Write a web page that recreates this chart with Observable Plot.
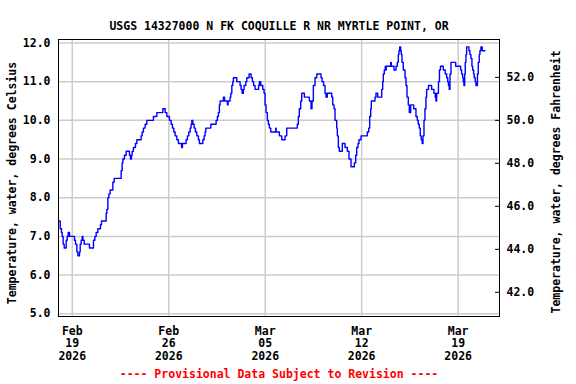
<!DOCTYPE html>
<html><head><meta charset="utf-8">
<script src="https://cdn.jsdelivr.net/npm/d3@7"></script>
<script src="https://cdn.jsdelivr.net/npm/@observablehq/plot@0.6"></script>
<style>
html,body{margin:0;padding:0;background:#fff;}
</style></head><body><div id="chart"></div>
<script>
const title = "USGS 14327000 N FK COQUILLE R NR MYRTLE POINT, OR";
const leftLabel = "Temperature, water, degrees Celsius";
const rightLabel = "Temperature, water, degrees Fahrenheit";
const footer = "---- Provisional Data Subject to Revision ----";
const celsiusTicks = [5, 6, 7, 8, 9, 10, 11, 12];
const fahrenheitTicks = [42, 44, 46, 48, 50, 52];
const dateTicks = ["2026-02-19", "2026-02-26", "2026-03-05", "2026-03-12", "2026-03-19"];
const dateDomain = ["2026-02-18", "2026-03-22"];
const celsiusDomain = [4.93, 12.09];
// [time (2026 UTC), water temperature °C], value holds until the next reading
const readings = [
["02-18 00:00",7.4],["02-18 03:00",7.2],["02-18 05:15",7.1],["02-18 06:25",7.0],["02-18 08:10",6.8],["02-18 09:55",6.7],
["02-18 13:25",6.9],["02-18 15:10",7.0],["02-18 16:55",7.1],["02-18 19:10",7.0],
["02-19 03:50",6.9],["02-19 05:35",6.8],["02-19 08:00",6.6],["02-19 09:45",6.5],["02-19 12:35",6.6],["02-19 13:45",6.8],
["02-19 15:30",6.9],["02-19 17:15",7.0],["02-19 18:30",6.9],["02-19 20:45",6.8],
["02-20 05:55",6.7],["02-20 12:55",6.9],["02-20 15:20",7.0],["02-20 17:35",7.1],["02-20 20:35",7.2],
["02-21 01:05",7.3],["02-21 02:50",7.4],["02-21 11:00",7.6],["02-21 12:15",7.7],["02-21 14:00",8.0],["02-21 15:45",8.1],
["02-21 18:00",8.2],["02-21 22:40",8.4],
["02-22 00:55",8.5],["02-22 13:05",8.7],["02-22 14:50",8.9],["02-22 16:05",9.0],["02-22 18:50",9.1],["02-22 21:50",9.2],
["02-23 03:35",9.1],["02-23 05:20",9.0],["02-23 07:05",9.1],["02-23 08:15",9.2],["02-23 10:30",9.3],["02-23 14:00",9.4],
["02-23 16:25",9.5],["02-23 23:55",9.6],
["02-24 01:40",9.7],["02-24 03:55",9.8],["02-24 06:55",9.9],["02-24 09:50",10.0],["02-24 21:20",10.1],
["02-25 03:15",10.2],["02-25 13:40",10.3],["02-25 17:40",10.2],["02-25 20:40",10.1],
["02-26 01:10",10.0],["02-26 04:10",9.9],["02-26 06:25",9.8],["02-26 08:50",9.7],["02-26 11:05",9.6],["02-26 14:05",9.5],
["02-26 16:50",9.4],["02-26 22:25",9.3],["02-26 23:50",9.4],
["02-27 06:15",9.5],["02-27 08:30",9.6],["02-27 10:55",9.7],["02-27 13:15",9.8],["02-27 14:55",9.9],["02-27 16:10",10.0],
["02-27 17:55",9.9],["02-27 20:10",9.8],["02-27 22:25",9.7],
["02-28 00:50",9.6],["02-28 03:40",9.5],["02-28 05:25",9.4],["02-28 11:20",9.5],["02-28 13:35",9.6],["02-28 15:20",9.7],
["02-28 16:30",9.8],
["03-01 01:15",9.9],["03-01 10:30",10.0],["03-01 12:45",10.1],["03-01 14:30",10.2],["03-01 16:10",10.4],["03-01 17:25",10.5],
["03-01 23:10",10.6],
["03-02 01:15",10.5],["03-02 06:10",10.4],["03-02 07:20",10.5],["03-02 10:50",10.6],["03-02 12:05",10.7],["03-02 13:50",10.9],
["03-02 15:30",11.0],["03-02 16:35",11.1],["03-02 22:30",11.0],
["03-03 04:15",10.9],["03-03 06:00",10.8],["03-03 07:45",10.7],["03-03 10:00",10.8],["03-03 11:10",10.9],["03-03 14:10",11.0],
["03-03 15:55",11.1],["03-03 19:55",11.2],["03-03 23:25",11.1],
["03-04 01:40",11.0],["03-04 03:45",10.9],["03-04 06:20",10.8],["03-04 12:25",10.9],["03-04 13:50",11.0],["03-04 16:15",10.9],
["03-04 19:45",10.8],["03-04 22:00",10.7],["03-04 23:45",10.4],
["03-05 01:30",10.2],["03-05 03:45",10.0],["03-05 05:30",9.9],["03-05 07:15",9.8],["03-05 09:40",9.7],["03-05 18:20",9.8],
["03-05 19:00",9.7],
["03-06 00:40",9.6],["03-06 04:50",9.5],["03-06 10:35",9.6],["03-06 13:30",9.8],
["03-07 07:55",9.9],["03-07 09:40",10.1],["03-07 11:25",10.3],["03-07 13:50",10.5],["03-07 15:35",10.7],["03-07 20:10",10.6],
["03-08 04:50",10.5],["03-08 07:50",10.3],["03-08 09:30",10.5],["03-08 11:50",10.9],["03-08 14:45",11.1],["03-08 17:45",11.2],
["03-09 01:10",11.1],["03-09 02:55",11.0],["03-09 05:35",10.9],["03-09 08:10",10.7],["03-09 09:55",10.6],["03-09 12:10",10.7],
["03-09 19:50",10.6],["03-09 21:35",10.4],["03-09 23:50",10.3],
["03-10 01:35",10.0],["03-10 04:30",9.8],["03-10 05:35",9.6],["03-10 07:20",9.3],["03-10 09:05",9.2],["03-10 14:15",9.4],
["03-10 19:00",9.3],["03-10 23:00",9.2],
["03-11 01:55",9.0],["03-11 05:25",8.8],["03-11 11:10",8.9],["03-11 13:35",9.1],["03-11 15:20",9.3],["03-11 17:35",9.4],
["03-11 19:20",9.5],["03-11 22:50",9.6],
["03-12 09:45",9.7],["03-12 12:15",9.8],["03-12 13:55",10.1],["03-12 15:40",10.3],["03-12 16:45",10.5],["03-12 23:10",10.6],
["03-13 00:55",10.7],["03-13 03:55",10.6],["03-13 10:50",10.8],["03-13 12:35",11.0],["03-13 13:40",11.2],["03-13 15:20",11.3],
["03-13 17:05",11.4],["03-13 17:45",11.3],["03-13 18:45",11.4],
["03-14 02:30",11.5],["03-14 03:35",11.4],["03-14 08:15",11.3],["03-14 11:45",11.4],["03-14 14:00",11.5],["03-14 15:45",11.7],
["03-14 16:55",11.8],["03-14 18:10",11.9],["03-14 19:55",11.8],["03-14 20:55",11.7],["03-14 22:10",11.5],
["03-15 00:25",11.3],["03-15 03:25",11.1],["03-15 05:10",10.9],["03-15 06:55",10.6],["03-15 09:10",10.4],["03-15 10:55",10.2],
["03-15 13:20",10.4],["03-15 18:30",10.3],["03-15 22:30",10.1],
["03-16 00:50",10.0],["03-16 02:30",9.9],["03-16 04:15",9.8],["03-16 06:00",9.6],["03-16 07:45",9.5],["03-16 09:20",9.4],
["03-16 10:45",9.6],["03-16 12:30",10.0],["03-16 14:10",10.3],["03-16 15:55",10.6],["03-16 17:10",10.8],["03-16 20:20",10.9],
["03-17 01:50",10.8],["03-17 05:50",10.7],["03-17 08:10",10.6],["03-17 09:20",10.5],["03-17 10:35",10.7],["03-17 13:40",11.0],
["03-17 15:25",11.3],["03-17 17:10",11.4],["03-17 22:05",11.3],
["03-18 01:30",11.2],["03-18 04:00",11.1],["03-18 05:45",11.0],["03-18 07:05",10.9],["03-18 08:30",10.8],["03-18 09:45",11.2],
["03-18 11:30",11.5],["03-18 19:40",11.4],
["03-19 04:20",11.3],["03-19 06:05",11.2],["03-19 07:50",11.1],["03-19 08:50",11.0],["03-19 10:05",10.9],["03-19 11:20",11.2],
["03-19 12:20",11.5],["03-19 13:35",11.7],["03-19 14:45",11.9],["03-19 18:45",11.8],["03-19 20:30",11.7],["03-19 22:15",11.6],
["03-20 00:00",11.4],["03-20 01:15",11.3],["03-20 02:55",11.2],["03-20 04:00",11.1],["03-20 05:45",11.0],["03-20 07:00",10.9],
["03-20 09:35",11.2],["03-20 11:00",11.5],["03-20 12:45",11.7],["03-20 13:55",11.8],["03-20 15:40",11.9],["03-20 17:55",11.8],
["03-20 22:40",11.8]
];

const parseT = d3.utcParse("%Y-%m-%d %H:%M");
const parseD = d3.utcParse("%Y-%m-%d");
const data = readings.map(([t, v]) => ({time: parseT("2026-" + t), temp: v}));
const tickDates = dateTicks.map(parseD);
const toC = f => (f - 32) * 5 / 9;
const fmtDate = d3.utcFormat("%b\n%d\n%Y");
const font = "DejaVu Sans Mono";

const chart = Plot.plot({
  width: 576, height: 384,
  marginLeft: 58, marginRight: 77, marginTop: 39, marginBottom: 68,
  style: {fontFamily: font, fontSize: "11.5px", fontWeight: "bold", background: "#fff", color: "#000", overflow: "visible"},
  x: {type: "utc", domain: dateDomain.map(parseD)},
  y: {domain: celsiusDomain},
  marks: [
    Plot.gridX(tickDates, {stroke: "#cccccc", strokeOpacity: 1, strokeWidth: 1.5}),
    Plot.gridY(celsiusTicks, {stroke: "#cccccc", strokeOpacity: 1, strokeWidth: 1.5}),
    Plot.axisX(tickDates, {tickSize: 0, tickPadding: 9, tickFormat: fmtDate, lineHeight: 1.11, label: null, fill: "#000"}),
    Plot.axisY(celsiusTicks, {anchor: "left", tickSize: 0, tickPadding: 8, tickFormat: d => d.toFixed(1), label: null, fill: "#000"}),
    Plot.axisY(fahrenheitTicks.map(toC), {anchor: "right", tickSize: 0, tickPadding: 7, tickFormat: c => (c * 9 / 5 + 32).toFixed(1), label: null, fill: "#000"}),
    Plot.tickY(fahrenheitTicks.map(toC), {insetLeft: 437, stroke: "#000"}),
    Plot.line(data, {x: "time", y: "temp", curve: "step-after", stroke: "#0000ff", strokeWidth: 1.4}),
    Plot.frame({stroke: "#000"}),
    Plot.text([title], {text: d => d, frameAnchor: "top", dy: -18, fill: "#000"}),
    Plot.text([footer], {text: d => d, frameAnchor: "bottom", dy: 61, fill: "#ff0000"}),
    Plot.text([leftLabel], {text: d => d, frameAnchor: "left", textAnchor: "middle", rotate: -90, dx: -46.5, dy: 5, fill: "#000"}),
    Plot.text([rightLabel], {text: d => d, frameAnchor: "right", textAnchor: "middle", rotate: -90, dx: 57, dy: 4, fill: "#000"})
  ]
});
document.getElementById("chart").appendChild(chart);
</script></body></html>
